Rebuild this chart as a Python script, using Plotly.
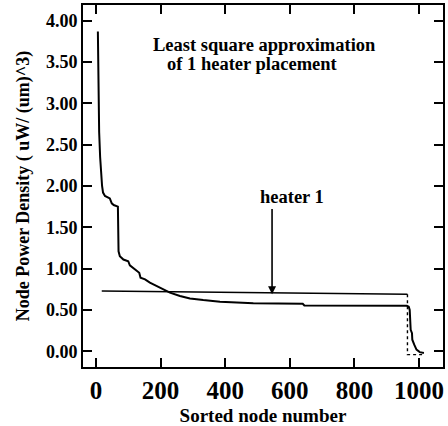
import plotly.graph_objects as go

# Sorted node power density curve
node_x = [6, 8, 10, 13, 16, 19, 22, 28, 43, 49, 55, 68, 70, 74, 85, 100, 105, 121, 134,
          138, 152, 167, 188, 208, 229, 260, 291, 332, 384, 436, 487, 640, 645, 962,
          968, 971, 974, 978, 979, 985, 992, 1002, 1015]
node_y = [3.87, 3.2, 2.65, 2.35, 2.15, 2.0, 1.92, 1.88, 1.85, 1.79, 1.77, 1.75, 1.21, 1.15,
          1.11, 1.09, 1.04, 0.99, 0.95, 0.89, 0.87, 0.83, 0.79, 0.75, 0.71, 0.67, 0.64,
          0.62, 0.60, 0.59, 0.58, 0.575, 0.555, 0.55, 0.54, 0.50, 0.26, 0.22, 0.14, 0.08,
          0.02, -0.01, -0.02]

# Least square approximation (heater 1)
heater_x = [18, 964]
heater_y = [0.73, 0.69]
heater_drop_x = [964, 964, 1015]
heater_drop_y = [0.69, -0.04, -0.04]

x_ticks = [0, 200, 400, 600, 800, 1000]
y_ticks = [0.0, 0.5, 1.0, 1.5, 2.0, 2.5, 3.0, 3.5, 4.0]

FONT = "Liberation Serif"

fig = go.Figure()
fig.add_trace(go.Scatter(x=node_x, y=node_y, mode="lines",
                         line=dict(color="black", width=2), showlegend=False))
fig.add_trace(go.Scatter(x=heater_x, y=heater_y, mode="lines",
                         line=dict(color="black", width=1.6), showlegend=False))
fig.add_trace(go.Scatter(x=heater_drop_x, y=heater_drop_y, mode="lines",
                         line=dict(color="black", width=1.4, dash="dot"), showlegend=False))

fig.add_annotation(x=545, y=0.69, ax=545, ay=1.74, axref="x", ayref="y",
                   showarrow=True, arrowhead=2, arrowsize=1, arrowwidth=1.6,
                   arrowcolor="black", text="")
fig.add_annotation(x=607, y=1.87, text="<b>heater 1</b>", showarrow=False,
                   font=dict(family=FONT, size=18.5, color="black"))
fig.add_annotation(x=523, y=3.71, text="<b>Least square approximation</b>", showarrow=False,
                   font=dict(family=FONT, size=18.5, color="black"))
fig.add_annotation(x=483, y=3.48, text="<b>of 1 heater placement</b>", showarrow=False,
                   font=dict(family=FONT, size=18.5, color="black"))

fig.update_layout(
    width=448, height=426,
    margin=dict(l=83, r=5, t=3, b=57),
    plot_bgcolor="white", paper_bgcolor="white",
    font=dict(family=FONT, color="black"),
)
fig.update_xaxes(
    range=[-40, 1074], tickvals=x_ticks, ticktext=[str(v) for v in x_ticks],
    ticks="inside", ticklen=9, tickwidth=2, tickcolor="black",
    showline=True, linecolor="black", linewidth=2, mirror="ticks",
    showgrid=False, zeroline=False,
    tickfont=dict(family=FONT, size=25, color="black", weight="bold"),
    title=dict(text="<b>Sorted node number</b>", font=dict(family=FONT, size=19), standoff=6),
)
fig.update_yaxes(
    range=[-0.19, 4.19], tickvals=y_ticks, tickformat=".2f",
    ticks="inside", ticklen=9, tickwidth=2, tickcolor="black",
    showline=True, linecolor="black", linewidth=2, mirror="ticks",
    showgrid=False, zeroline=False,
    tickfont=dict(family=FONT, size=18, color="black", weight="bold"),
    title=dict(text="<b>Node Power Density ( uW/ (um)^3)</b>", font=dict(family=FONT, size=18), standoff=12),
)

fig.write_html("out.html")
